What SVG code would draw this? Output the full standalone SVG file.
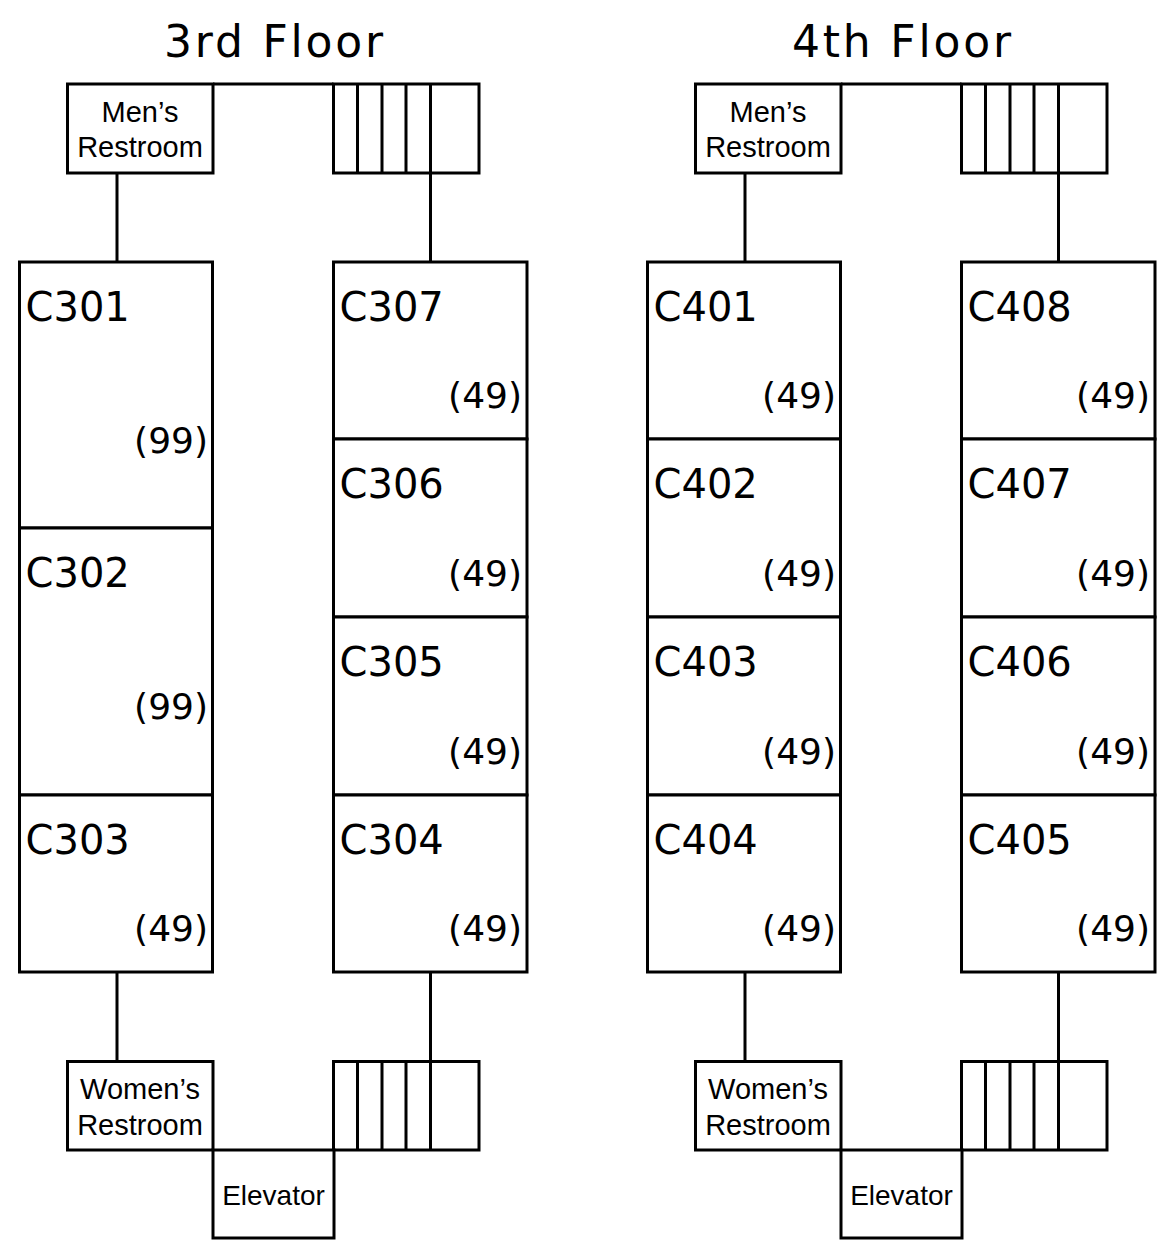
<svg xmlns="http://www.w3.org/2000/svg" width="1164" height="1242" viewBox="0 0 1164 1242">
<style>
.bx{fill:#fff;stroke:#000;stroke-width:3}
.ln{fill:none;stroke:#000;stroke-width:3}
.title{font-family:"DejaVu Sans",sans-serif;font-size:44px;text-anchor:middle;fill:#000}
.sm{font-family:"Liberation Sans",Arial,sans-serif;font-size:29px;text-anchor:middle;fill:#000}
.el{font-family:"Liberation Sans",Arial,sans-serif;font-size:28px;text-anchor:middle;fill:#000}
.rm{font-family:"DejaVu Sans",sans-serif;font-size:40px;fill:#000}
.cap{font-family:"DejaVu Sans",sans-serif;font-size:36px;text-anchor:end;fill:#000}
</style>
<rect width="1164" height="1242" fill="#fff"/>

<!-- 3rd floor -->
<g id="floor3">
<g id="title3"><text class="title" x="273.5" y="57" textLength="219" lengthAdjust="spacing">3rd Floor</text></g>

<g id="connectors3">
<path class="ln" d="M213 84H333.5M117 173V262M430.5 173V262M117 972V1061.5M430.5 972V1061.5"/>
</g>

<g id="mens3"><rect class="bx" x="67.5" y="84" width="145.5" height="89"/><text class="sm" x="140" y="122">Men’s</text><text class="sm" x="140" y="157">Restroom</text></g>
<g id="stairs3top"><rect class="bx" x="333.5" y="84" width="145.5" height="89"/><path class="ln" d="M357.5 84V173M382 84V173M406 84V173M430.5 84V173"/></g>

<g id="C301"><rect class="bx" x="19.5" y="262" width="193" height="266"/><text class="rm" x="25.5" y="321">C301</text><text class="cap" x="208" y="453">(99)</text></g>
<g id="C302"><rect class="bx" x="19.5" y="528" width="193" height="267"/><text class="rm" x="25.5" y="587">C302</text><text class="cap" x="208" y="719">(99)</text></g>
<g id="C303"><rect class="bx" x="19.5" y="795" width="193" height="177"/><text class="rm" x="25.5" y="854">C303</text><text class="cap" x="208" y="941">(49)</text></g>

<g id="C307"><rect class="bx" x="333.5" y="262" width="193.5" height="177"/><text class="rm" x="339.5" y="321">C307</text><text class="cap" x="522" y="408">(49)</text></g>
<g id="C306"><rect class="bx" x="333.5" y="439" width="193.5" height="178"/><text class="rm" x="339.5" y="498">C306</text><text class="cap" x="522" y="586">(49)</text></g>
<g id="C305"><rect class="bx" x="333.5" y="617" width="193.5" height="178"/><text class="rm" x="339.5" y="676">C305</text><text class="cap" x="522" y="764">(49)</text></g>
<g id="C304"><rect class="bx" x="333.5" y="795" width="193.5" height="177"/><text class="rm" x="339.5" y="854">C304</text><text class="cap" x="522" y="941">(49)</text></g>

<g id="womens3"><rect class="bx" x="67.5" y="1061.5" width="145.5" height="88.5"/><text class="sm" x="140" y="1099">Women’s</text><text class="sm" x="140" y="1135">Restroom</text></g>
<g id="stairs3bot"><rect class="bx" x="333.5" y="1061.5" width="145.5" height="88.5"/><path class="ln" d="M357.5 1061.5V1150M382 1061.5V1150M406 1061.5V1150M430.5 1061.5V1150"/></g>
<g id="elev3"><rect class="bx" x="213" y="1150" width="121" height="88"/><text class="el" x="273.5" y="1205">Elevator</text></g>
</g>

<!-- 4th floor -->
<g id="floor4" transform="translate(628 0)">
<g id="title4"><text class="title" x="273.5" y="57" textLength="219" lengthAdjust="spacing">4th Floor</text></g>

<g id="connectors4">
<path class="ln" d="M213 84H333.5M117 173V262M430.5 173V262M117 972V1061.5M430.5 972V1061.5"/>
</g>

<g id="mens4"><rect class="bx" x="67.5" y="84" width="145.5" height="89"/><text class="sm" x="140" y="122">Men’s</text><text class="sm" x="140" y="157">Restroom</text></g>
<g id="stairs4top"><rect class="bx" x="333.5" y="84" width="145.5" height="89"/><path class="ln" d="M357.5 84V173M382 84V173M406 84V173M430.5 84V173"/></g>

<g id="C401"><rect class="bx" x="19.5" y="262" width="193" height="177"/><text class="rm" x="25.5" y="321">C401</text><text class="cap" x="208" y="408">(49)</text></g>
<g id="C402"><rect class="bx" x="19.5" y="439" width="193" height="178"/><text class="rm" x="25.5" y="498">C402</text><text class="cap" x="208" y="586">(49)</text></g>
<g id="C403"><rect class="bx" x="19.5" y="617" width="193" height="178"/><text class="rm" x="25.5" y="676">C403</text><text class="cap" x="208" y="764">(49)</text></g>
<g id="C404"><rect class="bx" x="19.5" y="795" width="193" height="177"/><text class="rm" x="25.5" y="854">C404</text><text class="cap" x="208" y="941">(49)</text></g>

<g id="C408"><rect class="bx" x="333.5" y="262" width="193.5" height="177"/><text class="rm" x="339.5" y="321">C408</text><text class="cap" x="522" y="408">(49)</text></g>
<g id="C407"><rect class="bx" x="333.5" y="439" width="193.5" height="178"/><text class="rm" x="339.5" y="498">C407</text><text class="cap" x="522" y="586">(49)</text></g>
<g id="C406"><rect class="bx" x="333.5" y="617" width="193.5" height="178"/><text class="rm" x="339.5" y="676">C406</text><text class="cap" x="522" y="764">(49)</text></g>
<g id="C405"><rect class="bx" x="333.5" y="795" width="193.5" height="177"/><text class="rm" x="339.5" y="854">C405</text><text class="cap" x="522" y="941">(49)</text></g>

<g id="womens4"><rect class="bx" x="67.5" y="1061.5" width="145.5" height="88.5"/><text class="sm" x="140" y="1099">Women’s</text><text class="sm" x="140" y="1135">Restroom</text></g>
<g id="stairs4bot"><rect class="bx" x="333.5" y="1061.5" width="145.5" height="88.5"/><path class="ln" d="M357.5 1061.5V1150M382 1061.5V1150M406 1061.5V1150M430.5 1061.5V1150"/></g>
<g id="elev4"><rect class="bx" x="213" y="1150" width="121" height="88"/><text class="el" x="273.5" y="1205">Elevator</text></g>
</g>
</svg>
